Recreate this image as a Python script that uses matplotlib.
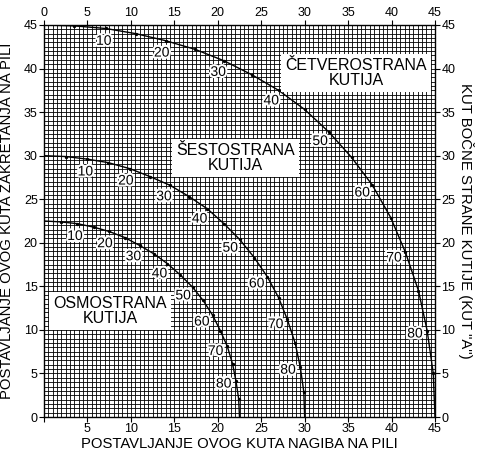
import numpy as np
import matplotlib
matplotlib.use('Agg')
import matplotlib.pyplot as plt
import matplotlib.patheffects as pe

plt.rcParams['font.family'] = ['Liberation Sans', 'DejaVu Sans']

# --- podaci (kut bocne strane "A" -> nagib / zakretanje) ---
kut_A = [0, 5, 10, 15, 20, 25, 30, 35, 40, 45, 50, 55, 60, 65, 70, 75, 80, 85, 90]

cetvero_nagib = [0.0, 3.5, 7.1, 10.6, 14.0, 17.4, 20.7, 23.9, 27.0, 30.0,
                 32.8, 35.4, 37.8, 39.9, 41.6, 43.1, 44.1, 44.8, 45.0]
cetvero_zakret = [45.0, 44.9, 44.6, 44.0, 43.2, 42.2, 40.9, 39.3, 37.5, 35.3,
                  32.7, 29.8, 26.6, 22.9, 18.9, 14.5, 9.9, 5.0, 0.0]

sesto_nagib = [0.0, 2.5, 5.0, 7.4, 9.9, 12.2, 14.5, 16.7, 18.8, 20.7,
               22.5, 24.2, 25.7, 27.0, 28.0, 28.9, 29.5, 29.9, 30.0]
sesto_zakret = [30.0, 29.9, 29.6, 29.2, 28.5, 27.6, 26.6, 25.3, 23.9, 22.2,
                20.4, 18.3, 16.1, 13.7, 11.2, 8.5, 5.7, 2.9, 0.0]

osmo_nagib = [0.0, 1.9, 3.8, 5.7, 7.5, 9.3, 11.0, 12.7, 14.2, 15.7,
              17.1, 18.3, 19.4, 20.3, 21.1, 21.7, 22.1, 22.4, 22.5]
osmo_zakret = [22.5, 22.4, 22.2, 21.8, 21.3, 20.6, 19.7, 18.7, 17.6, 16.3,
               14.9, 13.4, 11.7, 9.9, 8.1, 6.1, 4.1, 2.1, 0.0]

oznake = [10, 20, 30, 40, 50, 60, 70, 80]

krivulje = [
    (cetvero_nagib, cetvero_zakret, 'ČETVEROSTRANA\nKUTIJA', (35.9, 39.5)),
    (sesto_nagib, sesto_zakret, 'ŠESTOSTRANA\nKUTIJA', (22.0, 29.7)),
    (osmo_nagib, osmo_zakret, 'OSMOSTRANA\nKUTIJA', (7.6, 12.2)),
]

# --- crtanje ---
fig = plt.figure(figsize=(4.82, 4.53), dpi=100)
ax = fig.add_axes([44 / 482, 1 - 417 / 453, 391 / 482, 392 / 453])
ax.set_xlim(0, 45)
ax.set_ylim(0, 45)

# gusta mreza (milimetarski papir)
for v in np.arange(0.5, 45, 0.5):
    ax.axvline(v, color='black', lw=0.6, zorder=1)
    ax.axhline(v, color='black', lw=0.6, zorder=1)

for nagib, zakret, naziv, poz in krivulje:
    ax.plot(nagib, zakret, color='black', lw=1.0, zorder=3)
    ax.plot(nagib[1:-1], zakret[1:-1], 'o', color='black', ms=1.4, zorder=3)
    for a in oznake:
        i = kut_A.index(a)
        x, y = nagib[i], zakret[i]
        r = np.hypot(x, y)
        ax.annotate(str(a), (x, y), xytext=(-9 * x / r, -9 * y / r),
                    textcoords='offset points', ha='center', va='center',
                    fontsize=10, zorder=4,
                    path_effects=[pe.withStroke(linewidth=3, foreground='white')])
    ax.text(poz[0], poz[1], naziv, ha='center', va='center', fontsize=11.5,
            linespacing=1.0, zorder=5,
            bbox=dict(facecolor='white', edgecolor='none', pad=3))

ax.set_xticks(range(0, 46, 5))
ax.set_yticks(range(0, 46, 5))
ax.tick_params(top=True, labeltop=True, right=True, labelright=True,
               direction='out', length=3.5, width=0.8, labelsize=9, pad=1)
ax.xaxis.get_major_ticks()[0].label1.set_visible(False)
for s in ax.spines.values():
    s.set_linewidth(1.0)

ax.set_xlabel('POSTAVLJANJE OVOG KUTA NAGIBA NA PILI', fontsize=10.7)
ax.xaxis.set_label_coords(0.5, -0.05)
ax.set_ylabel('POSTAVLJANJE OVOG KUTA ZAKRETANJA NA PILI', fontsize=10.7)
ax.yaxis.set_label_coords(-0.077, 0.5)
ax.text(1.08, 0.5, 'KUT BOČNE STRANE KUTIJE (KUT "A")', transform=ax.transAxes,
        rotation=-90, ha='center', va='center', fontsize=10.7)

fig.savefig('out.png', dpi=100)
